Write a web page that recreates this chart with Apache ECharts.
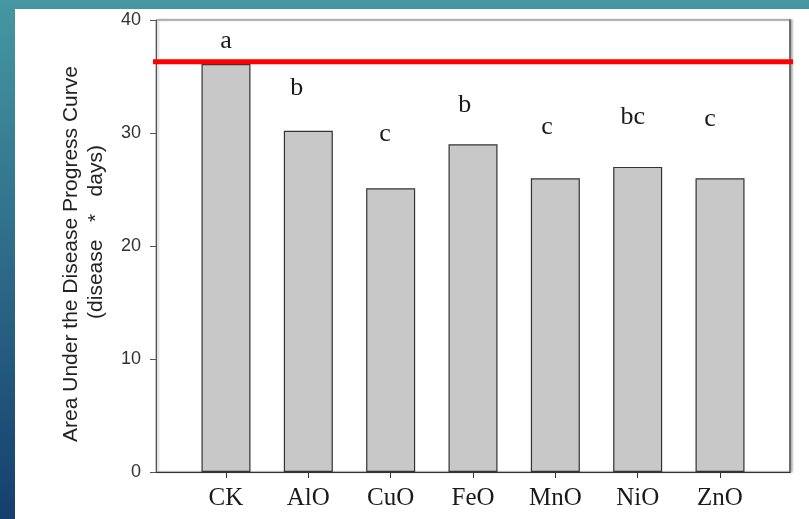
<!DOCTYPE html>
<html>
<head>
<meta charset="utf-8">
<script src="https://cdn.jsdelivr.net/npm/echarts@6/dist/echarts.min.js"></script>
<style>
html,body{margin:0;padding:0;}
#chart{width:809px;height:519px;}
</style>
</head>
<body>
<div id="chart"></div>
<script>
const categories = ['CK', 'AlO', 'CuO', 'FeO', 'MnO', 'NiO', 'ZnO'];
const values = [36.1, 30.2, 25.1, 29.0, 26.0, 27.0, 26.0];
const letters = ['a', 'b', 'c', 'b', 'c', 'bc', 'c'];
const letterX = [0, 0.86, 1.93, 2.9, 3.9, 4.94, 5.88];
const letterY = [38.1, 34.0, 29.9, 32.5, 30.5, 31.4, 31.2];
const refLevel = 36.3;
const refLineX = [-1.02, 6.9];
const yMin = 0, yMax = 40, yStep = 10;
const yTitle1 = 'Area Under the Disease Progress Curve';
const yTitle2 = '(disease   *   days)';

const chart = echarts.init(document.getElementById('chart'), null, {renderer: 'canvas'});
const idx = categories.map((_, i) => i);

chart.setOption({
  animation: false,
  backgroundColor: {
    type: 'linear', x: 0, y: 0, x2: 0, y2: 1,
    colorStops: [{offset: 0, color: '#4697a2'}, {offset: 1, color: '#153f6e'}]
  },
  graphic: [{
    type: 'rect', left: 15, top: 9, z: -10,
    shape: {width: 794, height: 510},
    style: {fill: '#ffffff'}
  }],
  grid: {
    left: 156, right: 19, top: 20, bottom: 47,
    show: true, backgroundColor: '#ffffff',
    borderColor: '#8a8a8a', borderWidth: 1,
    shadowColor: 'rgba(0,0,0,0.3)', shadowBlur: 2, shadowOffsetX: 2, shadowOffsetY: 0
  },
  xAxis: {
    type: 'value', min: -0.85, max: 6.85,
    splitLine: {show: false},
    axisLine: {show: true, onZero: false, lineStyle: {color: '#333', width: 1}},
    axisTick: {show: true, customValues: idx, length: 6, inside: false, lineStyle: {color: '#333'}},
    axisLabel: {
      customValues: idx, margin: 14,
      formatter: v => categories[Math.round(v)] || '',
      fontFamily: 'Liberation Serif', fontSize: 25, color: '#1a1a1a'
    }
  },
  yAxis: [{
    type: 'value', min: yMin, max: yMax, interval: yStep,
    splitLine: {show: false},
    axisLine: {show: true, onZero: false, lineStyle: {color: '#555', width: 1}},
    axisTick: {show: true, length: 6, lineStyle: {color: '#555'}},
    axisLabel: {margin: 15, fontFamily: 'Liberation Sans', fontSize: 18, color: '#333'},
    name: '{l1|' + yTitle1 + '}\n{l2|' + yTitle2 + '}',
    nameLocation: 'middle', nameGap: 47, nameRotate: 90,
    nameTextStyle: {
      align: 'center',
      rich: {
        l1: {fontFamily: 'Liberation Sans', fontSize: 21, color: '#222', lineHeight: 25, padding: [0, 16, 0, 0]},
        l2: {fontFamily: 'Liberation Sans', fontSize: 21, color: '#222', lineHeight: 25, padding: [0, 0, 0, 28]}
      }
    }
  }, {
    type: 'value', position: 'right', min: yMin, max: yMax, interval: yStep,
    splitLine: {show: false},
    axisLine: {show: true, onZero: false, lineStyle: {color: '#6e6e6e', width: 2}},
    axisTick: {show: false},
    axisLabel: {show: false}
  }],
  series: [
    {
      type: 'bar',
      data: values.map((v, i) => [i, v]),
      barWidth: 49,
      itemStyle: {color: '#c8c8c8', borderColor: '#333', borderWidth: 1.2},
      z: 2
    },
    {
      type: 'line',
      data: refLineX.map(x => [x, refLevel]),
      showSymbol: false, clip: false, silent: true,
      lineStyle: {color: '#ff0000', width: 5},
      z: 5
    },
    {
      type: 'custom',
      data: letters.map((t, i) => [letterX[i], letterY[i], t]),
      silent: true,
      renderItem: (params, api) => {
        const pt = api.coord([api.value(0), api.value(1)]);
        return {
          type: 'text',
          x: pt[0], y: pt[1],
          style: {
            text: letters[params.dataIndex],
            align: 'center', verticalAlign: 'middle',
            fontFamily: 'Liberation Serif', fontSize: 26, fill: '#1a1a1a'
          }
        };
      },
      z: 6
    }
  ]
});
</script>
</body>
</html>
